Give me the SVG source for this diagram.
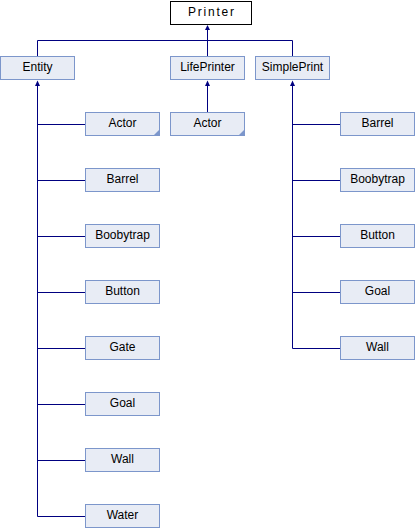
<svg xmlns="http://www.w3.org/2000/svg" width="415" height="528" viewBox="0 0 415 528">
<style>
.box{fill:#e8ecf5;stroke:#7c96cb;stroke-width:1}
.root{fill:#ffffff;stroke:#000000;stroke-width:1}
.lbl{font-family:"Liberation Sans",Arial,sans-serif;font-size:12px;fill:#000000;text-anchor:middle}
.edge{stroke:#000080;stroke-width:1;fill:none}
.arr{fill:#000080;stroke:none}
.fold{fill:#7c96cb;stroke:none}
</style>
<rect width="415" height="528" fill="#ffffff"/>
<g id="connectors">
<path class="edge" d="M37.5,40.5H292.5 M207.5,40.5V29 M37.5,40.5V56 M207.5,40.5V56 M292.5,40.5V56"/>
<polygon class="arr" points="207.5,25 205,30 210,30"/>
<path class="edge" d="M37.5,85V516.5 M37.5,124.5H85 M37.5,180.5H85 M37.5,236.5H85 M37.5,292.5H85 M37.5,348.5H85 M37.5,404.5H85 M37.5,460.5H85 M37.5,516.5H85"/>
<polygon class="arr" points="37.5,80.5 35,86 40,86"/>
<path class="edge" d="M207.5,85V112"/>
<polygon class="arr" points="207.5,80.5 205,86 210,86"/>
<path class="edge" d="M292.5,85V348.5 M292.5,124.5H340 M292.5,180.5H340 M292.5,236.5H340 M292.5,292.5H340 M292.5,348.5H340"/>
<polygon class="arr" points="292.5,80.5 290,86 295,86"/>
</g>
<g id="node-printer"><rect class="root" x="170.5" y="1.5" width="81" height="23"/><text class="lbl" x="211" y="16" textLength="46" lengthAdjust="spacing">Printer</text></g>
<g id="node-entity"><rect class="box" x="0.5" y="56.5" width="74" height="23"/><text class="lbl" x="37.5" y="71">Entity</text></g>
<g id="node-lifeprinter"><rect class="box" x="170.5" y="56.5" width="74" height="23"/><text class="lbl" x="207.5" y="71">LifePrinter</text></g>
<g id="node-simpleprint"><rect class="box" x="255.5" y="56.5" width="74" height="23"/><text class="lbl" x="292.5" y="71">SimplePrint</text></g>
<g id="node-entity-actor"><rect class="box" x="85.5" y="112.5" width="74" height="23"/><polygon class="fold" points="153.5,135.5 159.5,129.5 159.5,135.5"/><text class="lbl" x="122.5" y="127">Actor</text></g>
<g id="node-entity-barrel"><rect class="box" x="85.5" y="168.5" width="74" height="23"/><text class="lbl" x="122.5" y="183">Barrel</text></g>
<g id="node-entity-boobytrap"><rect class="box" x="85.5" y="224.5" width="74" height="23"/><text class="lbl" x="122.5" y="239">Boobytrap</text></g>
<g id="node-entity-button"><rect class="box" x="85.5" y="280.5" width="74" height="23"/><text class="lbl" x="122.5" y="295">Button</text></g>
<g id="node-entity-gate"><rect class="box" x="85.5" y="336.5" width="74" height="23"/><text class="lbl" x="122.5" y="351">Gate</text></g>
<g id="node-entity-goal"><rect class="box" x="85.5" y="392.5" width="74" height="23"/><text class="lbl" x="122.5" y="407">Goal</text></g>
<g id="node-entity-wall"><rect class="box" x="85.5" y="448.5" width="74" height="23"/><text class="lbl" x="122.5" y="463">Wall</text></g>
<g id="node-entity-water"><rect class="box" x="85.5" y="504.5" width="74" height="23"/><text class="lbl" x="122.5" y="519">Water</text></g>
<g id="node-life-actor"><rect class="box" x="170.5" y="112.5" width="74" height="23"/><polygon class="fold" points="238.5,135.5 244.5,129.5 244.5,135.5"/><text class="lbl" x="207.5" y="127">Actor</text></g>
<g id="node-simple-barrel"><rect class="box" x="340.5" y="112.5" width="74" height="23"/><text class="lbl" x="377.5" y="127">Barrel</text></g>
<g id="node-simple-boobytrap"><rect class="box" x="340.5" y="168.5" width="74" height="23"/><text class="lbl" x="377.5" y="183">Boobytrap</text></g>
<g id="node-simple-button"><rect class="box" x="340.5" y="224.5" width="74" height="23"/><text class="lbl" x="377.5" y="239">Button</text></g>
<g id="node-simple-goal"><rect class="box" x="340.5" y="280.5" width="74" height="23"/><text class="lbl" x="377.5" y="295">Goal</text></g>
<g id="node-simple-wall"><rect class="box" x="340.5" y="336.5" width="74" height="23"/><text class="lbl" x="377.5" y="351">Wall</text></g>
</svg>
